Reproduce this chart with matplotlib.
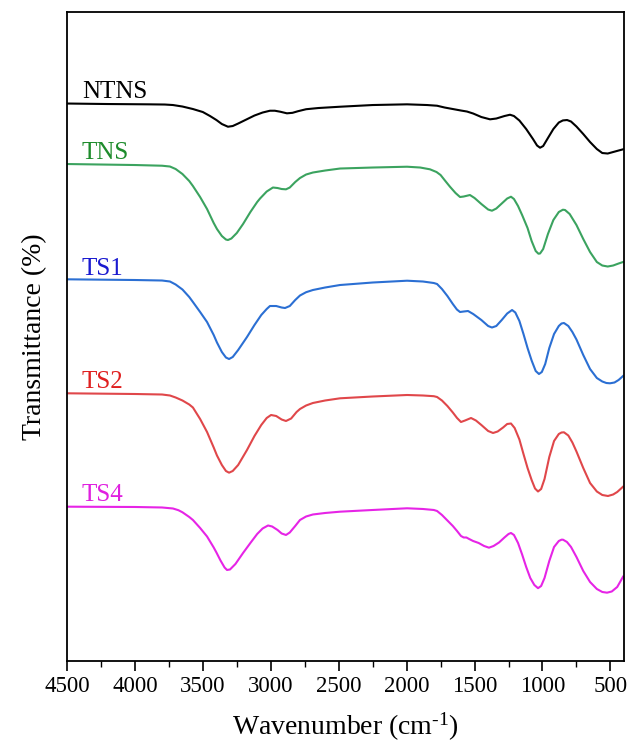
import matplotlib
matplotlib.use("Agg")
import matplotlib.pyplot as plt
from matplotlib.ticker import MultipleLocator, NullLocator

plt.rcParams['font.family'] = ['Liberation Serif', 'DejaVu Serif']
plt.rcParams['mathtext.fontset'] = 'custom'
plt.rcParams['mathtext.rm'] = 'Liberation Serif'
plt.rcParams['mathtext.it'] = 'Liberation Serif:italic'

# FTIR spectra (wavenumber, transmittance in a.u., offset stacked)
wn_ntns = [4500, 4200, 3900, 3780, 3720, 3650, 3573, 3500, 3447, 3400, 3360, 3315, 3280, 3240,
           3180, 3120, 3060, 3006, 2970, 2930, 2881, 2840, 2800, 2740, 2650, 2490, 2250, 1997,
           1850, 1776, 1720, 1660, 1600, 1556, 1510, 1450, 1386, 1340, 1280, 1239, 1210, 1170,
           1120, 1070, 1040, 1018, 995, 960, 920, 880, 850, 819, 790, 750, 700, 650, 600, 560,
           520, 480, 440, 407]
t_ntns = [557.5, 557, 556.7, 556.5, 556, 554.5, 552, 549, 545, 541, 537, 534.3, 535, 537.5,
          541.5, 545.5, 548.5, 550.3, 550.3, 549.3, 547.7, 548.2, 549.8, 551.8, 553, 554.3, 556, 556.7,
          556, 555.3, 553.5, 552, 550.5, 549.5, 547.5, 544, 541.7, 542.5, 545, 546.3, 545, 540.5,
          532, 522, 515.5, 513.3, 515, 523, 532, 538.5, 540.6, 541, 539.5, 534.5, 527, 519, 512, 508,
          507.5, 509, 510.5, 511.7]

wn_tns = [4500, 4000, 3800, 3742, 3700, 3650, 3600, 3573, 3520, 3469, 3420, 3396, 3360, 3330,
          3315, 3290, 3250, 3204, 3150, 3100, 3079, 3030, 2984, 2950, 2920, 2888, 2860, 2820,
          2785, 2740, 2690, 2600, 2490, 2250, 1997, 1900, 1828, 1780, 1750, 1715, 1681, 1640,
          1607, 1580, 1534, 1500, 1450, 1400, 1372, 1340, 1300, 1260, 1232, 1210, 1180, 1150,
          1110, 1080, 1050, 1030, 1018, 995, 960, 920, 880, 850, 834, 800, 750, 700, 650, 600,
          560, 520, 480, 440, 407]
t_tns = [497, 496, 495.3, 494.5, 492, 487, 480, 475, 464, 452, 438, 432, 425, 421.5,
         421, 422.5, 428, 437, 449, 459, 462.5, 469.5, 473.5, 473, 472, 471.7, 473.5, 479,
         483, 486.5, 488.5, 490.5, 492.5, 493.5, 494.3, 493.5, 491.7, 489, 486, 480, 474.3, 468,
         464, 464.5, 466, 463, 457, 451.5, 450.3, 452.5, 457.5, 462.5, 464.3, 462, 455, 446,
         433, 420, 410, 407.3, 407.5, 412, 427, 441, 449, 451.3, 451, 447, 436, 422, 409, 399,
         395.5, 394.5, 395.5, 397.5, 399]

wn_ts1 = [4500, 4000, 3800, 3742, 3700, 3650, 3600, 3573, 3520, 3469, 3420, 3396, 3360, 3330,
          3307, 3280, 3240, 3175, 3120, 3070, 3030, 3006, 2960, 2920, 2895, 2860, 2820, 2785,
          2740, 2690, 2600, 2490, 2250, 1997, 1880, 1800, 1776, 1740, 1700, 1660, 1630, 1607,
          1580, 1548, 1510, 1450, 1400, 1372, 1340, 1300, 1260, 1224, 1200, 1170, 1140, 1110,
          1080, 1050, 1026, 1005, 980, 950, 915, 880, 860, 842, 810, 780, 750, 700, 650, 600,
          560, 530, 503, 470, 440, 407]
t_ts1 = [381.7, 381, 380.5, 379.5, 376.5, 371.5, 364, 359, 349, 339, 326, 318.5, 309, 303.5,
         302, 304, 311, 324, 336, 346, 352, 355, 355, 353.5, 353, 355, 361, 365.5,
         368.8, 371, 373.5, 376, 378.5, 380.3, 379.5, 378, 377, 372, 365, 357, 351.5, 349,
         349.5, 350, 347, 341, 335, 333.5, 335, 341, 347.5, 351, 348.5, 340, 327, 313,
         300.5, 290, 287, 289, 297, 313, 327, 335, 337.5, 338, 335, 329, 321.5, 306, 292, 283,
         279.5, 278, 277.7, 278.5, 281, 285]

wn_ts2 = [4500, 4000, 3800, 3742, 3700, 3650, 3600, 3573, 3520, 3469, 3420, 3396, 3360, 3330,
          3307, 3280, 3240, 3175, 3120, 3070, 3030, 2998, 2960, 2920, 2888, 2850, 2810, 2785,
          2740, 2690, 2600, 2490, 2250, 1997, 1880, 1800, 1776, 1740, 1700, 1660, 1629, 1600,
          1570, 1526, 1490, 1450, 1400, 1364, 1330, 1290, 1260, 1232, 1205, 1170, 1140, 1110,
          1080, 1055, 1033, 1010, 985, 950, 915, 880, 860, 842, 810, 780, 750, 700, 650, 600,
          560, 518, 480, 450, 407]
t_ts2 = [267.7, 267, 266.5, 265.5, 263.5, 260.5, 256.5, 253.5, 242, 229, 213.5, 205.5, 196, 190,
         188.3, 190, 196, 211, 225, 236, 243, 246, 245, 241.5, 240, 242.5, 249, 252,
         255.5, 258, 260.5, 262.7, 264.5, 266, 265.5, 264.8, 264, 260.5, 255, 248.5, 243, 239,
         240.5, 243, 240.5, 236, 230, 228, 229.5, 233.5, 237, 237.5, 233, 221.5, 207, 193,
         181, 172.5, 169.5, 172, 182, 204, 220, 227, 228.5, 228.7, 225.5, 218.5, 209.5, 193, 178, 169.5,
         166, 165, 166.5, 169, 174.3]

wn_ts4 = [4500, 4000, 3800, 3720, 3680, 3650, 3600, 3573, 3520, 3469, 3420, 3400, 3370, 3340,
          3322, 3300, 3260, 3204, 3150, 3100, 3060, 3020, 2990, 2950, 2920, 2888, 2860, 2820,
          2785, 2740, 2690, 2600, 2490, 2250, 1997, 1880, 1800, 1776, 1740, 1700, 1660, 1629,
          1600, 1580, 1560, 1540, 1511, 1470, 1430, 1394, 1360, 1320, 1280, 1250, 1232, 1210,
          1180, 1150, 1120, 1090, 1060, 1033, 1010, 985, 950, 915, 880, 860, 849, 820, 790, 750,
          700, 650, 600, 560, 525, 490, 450, 407]
t_ts4 = [154.3, 154, 153.5, 152.5, 150.8, 148.7, 144, 141, 133, 124.5, 113.5, 108.5, 100.5, 93.5,
         91, 91.5, 97, 108, 118, 127, 132.5, 135.5, 134.5, 131, 127.5, 126, 128.5, 135,
         141, 144.5, 146.5, 148, 149.3, 151, 152.7, 152, 151, 150, 146, 140.5, 135, 130,
         125, 123.5, 123.5, 122, 120, 118, 115, 113.3, 115, 118.5, 123.5, 127, 128, 126,
         118, 106.5, 94, 83, 76, 72.8, 75, 83, 100, 114, 120, 121.3, 121.3, 119, 114, 104,
         90, 79, 72, 69, 68.3, 69.5, 74, 84.3]

names = ['NTNS', 'TNS', 'TS1', 'TS2', 'TS4']
line_colors = ['#000000', '#3ba35f', '#2b6fd3', '#e0474a', '#e624e6']
text_colors = ['#000000', '#1e8c2c', '#1a1ad0', '#e02020', '#e020e0']
label_y = [562.7, 502, 386, 272.7, 160]

spectra = [(wn_ntns, t_ntns), (wn_tns, t_tns), (wn_ts1, t_ts1), (wn_ts2, t_ts2), (wn_ts4, t_ts4)]

fig = plt.figure(figsize=(6.3, 7.43), dpi=100)
ax = fig.add_axes([0.1063, 0.1104, 0.8842, 0.8734])

for (wn, t), name, lc, tc, ly in zip(spectra, names, line_colors, text_colors, label_y):
    ax.plot(wn, t, color=lc, lw=1.5, solid_joinstyle='round')
    ax.text(4390, ly, name, color=tc, fontsize=18, ha='left', va='baseline')

ax.set_xlim(4500, 400)
ax.set_ylim(0, 649)
ax.xaxis.set_major_locator(MultipleLocator(500))
ax.xaxis.set_minor_locator(MultipleLocator(250))
ax.yaxis.set_major_locator(NullLocator())
ax.tick_params(axis='x', which='major', direction='out', length=7, width=1.2, labelsize=16.5, pad=4)
ax.tick_params(axis='x', which='minor', direction='out', length=4, width=1)
for sp in ax.spines.values():
    sp.set_linewidth(1.3)

ax.set_xlabel(r'Wavenumber (cm$^{\text{-}1}$)', fontsize=20, labelpad=10)
ax.set_ylabel('Transmittance (%)', fontsize=20, labelpad=14)

fig.savefig('out.png', dpi=100)
